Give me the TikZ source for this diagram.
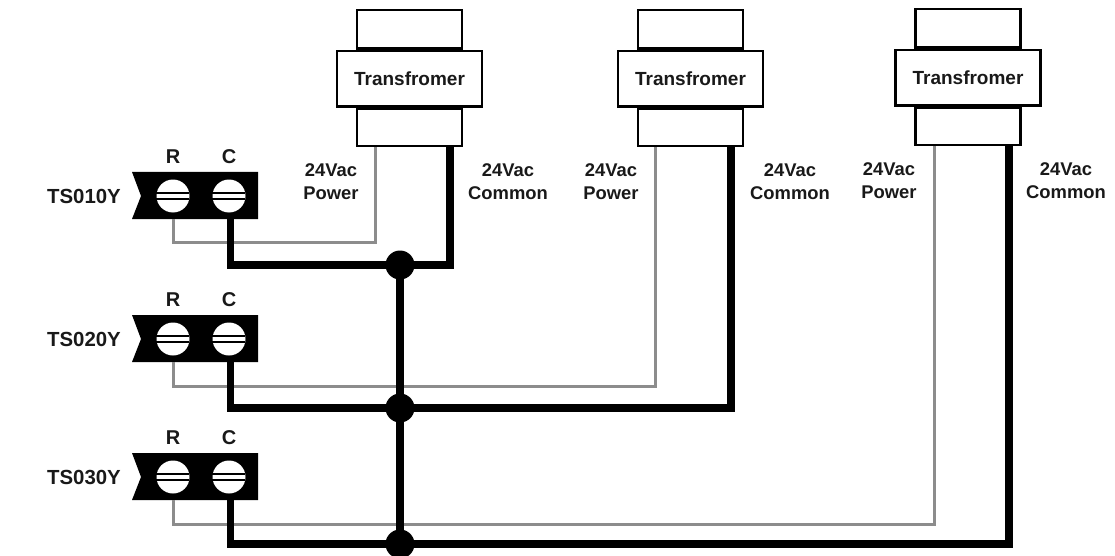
\documentclass[tikz,border=0pt]{standalone}
\usepackage{fontspec}
\setmainfont{Liberation Sans}
\usetikzlibrary{math}
\usetikzlibrary{positioning}
\tikzstyle{txt} = [font=\bfseries\fontsize{19}{21}\selectfont, inner sep=0pt, align=center, text=black!90]
\tikzstyle{tagtxt} = [font=\bfseries\fontsize{18.4}{23}\selectfont, inner sep=0pt, align=center, text=black!90]
\tikzstyle{core} = [draw=black, line width=2.4pt, fill=white, inner sep=0pt]
\tikzstyle{powerwire} = [draw=black!45, line width=3pt]
\tikzstyle{commonwire} = [draw=black, line width=7.5pt]
\tikzstyle{joint} = [circle, fill=black, minimum size=29pt, inner sep=0pt]
\tikzstyle{screw} = [circle, fill=white, minimum size=33pt, inner sep=0pt]

\begin{document}
\begin{tikzpicture}[x=1pt, y=-1pt]

  \useasboundingbox (0,0) rectangle (1115,556);

  % Transformers
  \foreach \n/\xm/\xp/\xc/\xl/\xr/\dy in {1/409.5/375/450/331/508/0, 2/690.5/655/731/611/790/0, 3/968/934/1009/889/1066/1} {
    \begin{scope}[yshift=\dy pt]
      \tikzmath{\w = 105; \mw = 145;}
      \node[core, minimum width=\w pt, minimum height=38.5pt] (top\n) at (\xm,29.25) {};
      \node[core, minimum width=\w pt, minimum height=37.3pt] (bot\n) at (\xm,127.35) {};
      \node[core, minimum width=\mw pt, minimum height=55.7pt, txt] (tr\n) at (\xm,78.65) {Transfromer};
      \node[tagtxt] (pw\n) at (\xl,182) {24Vac\\Power};
      \node[tagtxt] (cm\n) at (\xr,182) {24Vac\\Common};
      \coordinate (p\n) at (\xp,147);
      \coordinate (c\n) at (\xc,146);
    \end{scope}
  }

  % Terminals
  \foreach \n/\tname/\yt/\yg/\yb in {1/TS010Y/196/242/265, 2/TS020Y/339/386/408, 3/TS030Y/477/524/544} {
    \begin{scope}[yshift=-\yt pt]
      \fill (132,-24) -- (258,-24) -- (258,23) -- (132,23) -- (141,0) -- cycle;
      \node[screw] (r\n) at (173,0) {};
      \node[screw] (k\n) at (229,0) {};
      \draw[line width=1.8pt] (r\n.west) ++(0,-3) -- ++(33,0) ++(0,6) -- ++(-33,0);
      \draw[line width=1.8pt] (k\n.west) ++(0,-3) -- ++(33,0) ++(0,6) -- ++(-33,0);
      \node[txt, font=\bfseries\fontsize{20}{21}\selectfont] (rl\n) at (173,-39) {R};
      \node[txt, font=\bfseries\fontsize{20}{21}\selectfont] (cl\n) at (229,-39) {C};
      \node[txt, font=\bfseries\fontsize{20.4}{21}\selectfont] (ts\n) at (84,0) {\tname};
      \coordinate (rd\n) at (173,23);
      \coordinate (kd\n) at (230.5,20);
    \end{scope}
    \node[joint] (j\n) at (400,\yb) {};
    \coordinate (pc\n) at (0,\yg);
    \draw[powerwire] (rd\n) |- (p\n |- pc\n) -- (p\n);
    \draw[commonwire] (kd\n) |- (j\n.center) -| (c\n);
  }

  % Bus
  \draw[commonwire] (j1.center) -- (j2.center) -- (j3.center);

\end{tikzpicture}
\end{document}
